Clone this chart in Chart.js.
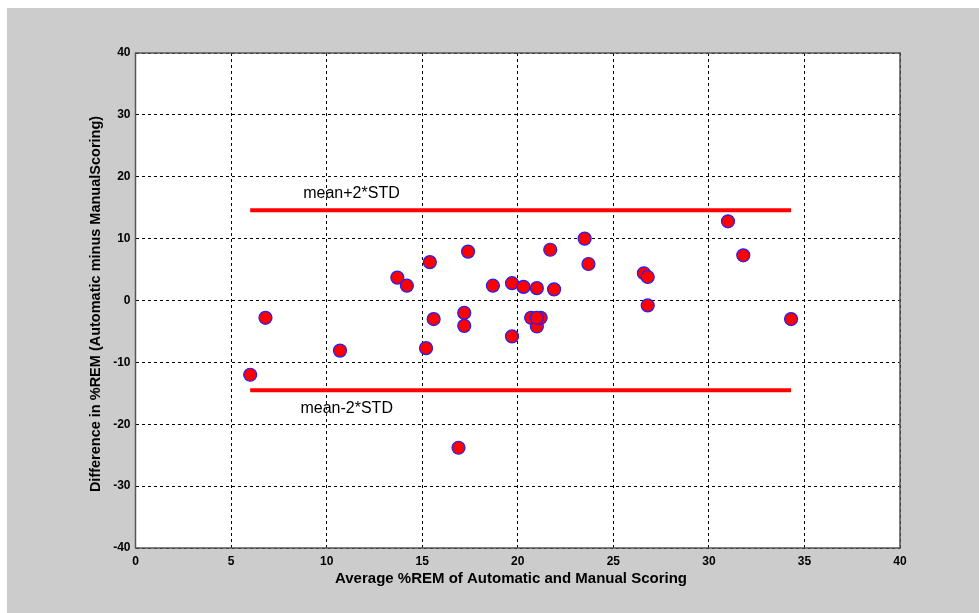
<!DOCTYPE html>
<html>
<head>
<meta charset="utf-8">
<script src="https://cdn.jsdelivr.net/npm/chart.js@4.4.1/dist/chart.umd.min.js"></script>
<style>
  html, body { margin: 0; padding: 0; background: #fff; }
  #wrap { position: absolute; left: 7px; top: 8px; width: 972px; height: 605px; background: #cccccc; }
  canvas { display: block; }
</style>
</head>
<body>
<div id="wrap"><canvas id="bland" width="972" height="605"></canvas></div>
<script>
// average %REM (x) and difference (y) for each recording
const avgREM = [6.0, 6.8, 10.7, 13.7, 14.2, 15.2, 15.4, 15.6, 16.9, 17.2, 17.2, 17.4, 18.7, 19.7, 19.7,
                20.3, 20.7, 21.0, 21.0, 21.2, 21.0, 21.7, 21.9, 23.5, 23.7, 26.6, 26.8, 26.8, 31.0, 31.8, 34.3];
const diffREM = [-12.0, -2.8, -8.1, 3.7, 2.4, -7.7, 6.2, -3.0, -23.8, -2.0, -4.1, 7.9, 2.4, 2.8, -5.8,
                 2.2, -2.8, 2.0, -4.2, -2.8, -2.8, 8.2, 1.8, 10.0, 5.9, 4.4, 3.8, -0.8, 12.8, 7.3, -3.0];
const limitX = [6.0, 34.3];
const upperLimit = 14.6;
const lowerLimit = -14.5;
const xTicks = [0, 5, 10, 15, 20, 25, 30, 35, 40];
const yTicks = [-40, -30, -20, -10, 0, 10, 20, 30, 40];
const limitLabels = [
  { text: "mean+2*STD", x: 11.3, y: 17.3 },
  { text: "mean-2*STD", x: 11.05, y: -17.5 }
];
const xTitle = "Average %REM of Automatic and Manual Scoring";
const yTitle = "Difference in %REM (Automatic minus ManualScoring)";

const points = avgREM.map((x, i) => ({ x: x, y: diffREM[i] }));
const FONT = "'Liberation Sans', Arial, sans-serif";

const plotBg = {
  id: "plotBg",
  beforeDraw(chart) {
    const a = chart.chartArea;
    const ctx = chart.ctx;
    ctx.save();
    ctx.fillStyle = "#ffffff";
    ctx.fillRect(a.left, a.top, a.right - a.left, a.bottom - a.top);
    ctx.restore();
  },
  afterDatasetsDraw(chart) {
    const ctx = chart.ctx;
    const xs = chart.scales.x, ys = chart.scales.y;
    ctx.save();
    ctx.font = "16px " + FONT;
    ctx.fillStyle = "#000";
    ctx.textAlign = "center";
    ctx.textBaseline = "middle";
    limitLabels.forEach(l => {
      ctx.fillText(l.text, xs.getPixelForValue(l.x), ys.getPixelForValue(l.y));
    });
    const a = chart.chartArea;
    ctx.strokeStyle = "#555";
    ctx.lineWidth = 1.5;
    ctx.strokeRect(a.left, a.top, a.right - a.left, a.bottom - a.top);

    // axis titles, placed like the MATLAB figure
    ctx.font = "bold 15px " + FONT;
    ctx.fillText(xTitle, 504, 571);
    ctx.translate(89, 296);
    ctx.rotate(-Math.PI / 2);
    ctx.font = "bold 14.5px " + FONT;
    ctx.fillText(yTitle, 0, 0);
    ctx.restore();
  }
};

const gridStyle = {
  color: "#000",
  lineWidth: 1,
  tickLength: 0,
  drawTicks: false
};

new Chart(document.getElementById("bland"), {
  type: "scatter",
  data: {
    datasets: [
      {
        data: points,
        backgroundColor: "#ff0000",
        borderColor: "#2020ff",
        borderWidth: 1.2,
        pointRadius: 6.5,
        order: 0
      },
      {
        data: limitX.map(x => ({ x: x, y: upperLimit })),
        showLine: true,
        borderColor: "#ff0000",
        borderWidth: 4,
        pointRadius: 0,
        order: 1
      },
      {
        data: limitX.map(x => ({ x: x, y: lowerLimit })),
        showLine: true,
        borderColor: "#ff0000",
        borderWidth: 4,
        pointRadius: 0,
        order: 1
      }
    ]
  },
  options: {
    responsive: false,
    animation: false,
    layout: { padding: { top: 45, right: 79, left: 0, bottom: 0 } },
    plugins: {
      legend: { display: false },
      tooltip: { enabled: false }
    },
    scales: {
      x: {
        type: "linear",
        min: 0,
        max: 40,
        afterBuildTicks: s => { s.ticks = xTicks.map(v => ({ value: v })); },
        afterFit: s => { s.height = 65; },
        border: { display: false, dash: [3, 3] },
        grid: gridStyle,
        ticks: {
          color: "#000",
          padding: 6,
          font: { family: FONT, size: 12, weight: "bold" }
        }
      },
      y: {
        type: "linear",
        min: -40,
        max: 40,
        afterBuildTicks: s => { s.ticks = yTicks.map(v => ({ value: v })); },
        afterFit: s => { s.width = 128.5; },
        border: { display: false, dash: [3, 3] },
        grid: gridStyle,
        ticks: {
          color: "#000",
          padding: 5,
          font: { family: FONT, size: 12, weight: "bold" }
        }
      }
    }
  },
  plugins: [plotBg]
});
</script>
</body>
</html>
